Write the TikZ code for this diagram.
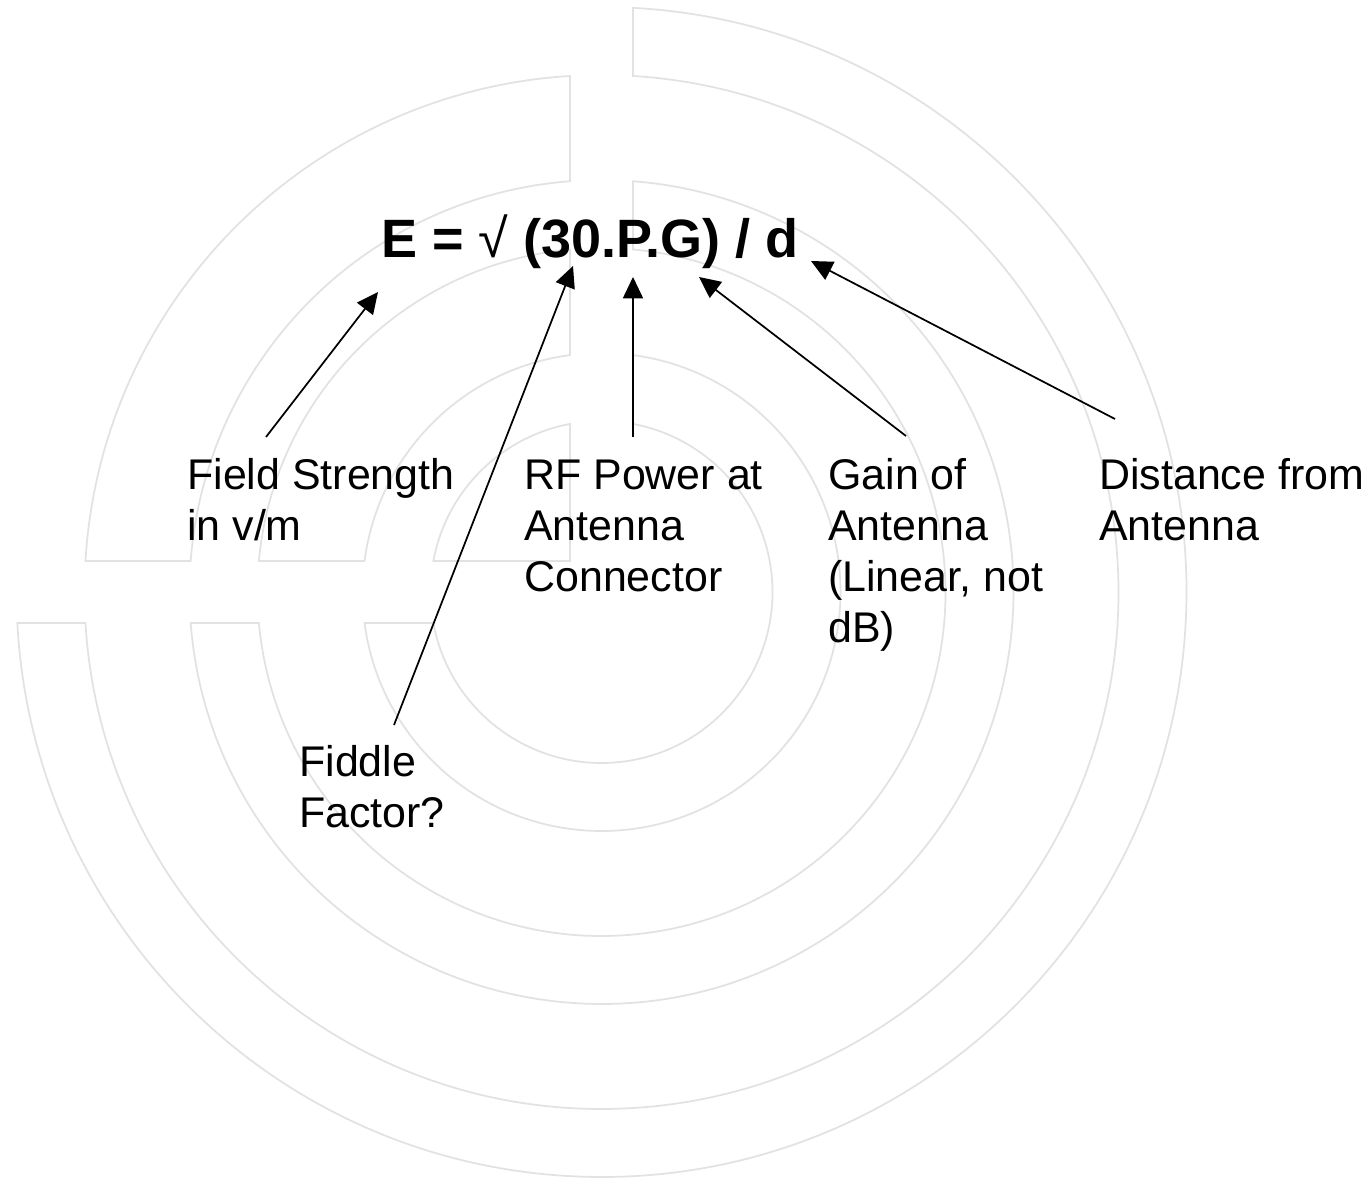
\documentclass[tikz,border=0pt]{standalone}
\usepackage{fontspec}
\setmainfont{Liberation Sans}
\usetikzlibrary{arrows.meta}
\definecolor{ringgrey}{RGB}{226,226,226}
\begin{document}
\begin{tikzpicture}[x=0.75pt,y=0.75pt,
  ring/.style={draw=ringgrey, line width=1.3pt, line join=miter},
  note/.style={anchor=base west, inner sep=0pt, font=\fontsize{32.2pt}{38.2pt}\selectfont},
  formula/.style={anchor=base west, inner sep=0pt, font=\bfseries\fontsize{40.5pt}{48pt}\selectfont},
  pointer/.style={draw=black, line width=1.3pt, -{Triangle[length=16pt,width=15pt]}}]
\useasboundingbox (0,0) rectangle (1372,1179);
\fill[white] (0,0) rectangle (1372,1179);

% concentric bands: three-quarter rings and top-left quarter rings
\begin{scope}[shift={(601.5,587)}]
  \foreach \Ro/\Ri in {585/517, 412/344, 239/171} {
    \draw[ring] ({90-asin(31.5/\Ro)}:\Ro)
      arc[start angle={90-asin(31.5/\Ro)}, end angle={-180+asin(31/\Ro)}, radius=\Ro]
      -- ({-180+asin(31/\Ri)}:\Ri)
      arc[start angle={-180+asin(31/\Ri)}, end angle={90-asin(31.5/\Ri)}, radius=\Ri]
      -- cycle;
  }
  \foreach \Ro/\Ri in {517/412, 344/239} {
    \draw[ring] ({90+asin(31.5/\Ro)}:\Ro)
      arc[start angle={90+asin(31.5/\Ro)}, end angle={180-asin(31/\Ro)}, radius=\Ro]
      -- ({180-asin(31/\Ri)}:\Ri)
      arc[start angle={180-asin(31/\Ri)}, end angle={90+asin(31.5/\Ri)}, radius=\Ri]
      -- cycle;
  }
  \draw[ring] ({90+asin(31.5/171)}:171)
    arc[start angle={90+asin(31.5/171)}, end angle={180-asin(31/171)}, radius=171]
    -- (-31.5,31) -- cycle;
\end{scope}

% formula and labels
\node[formula] (eq) at (381,921) {E = {\mdseries √} (30.P.G) / d};
\node[note] (field) at (187,689) {\begin{tabular}[t]{@{}l@{}}Field Strength\\in v/m\end{tabular}};
\node[note] (power) at (524,689) {\begin{tabular}[t]{@{}l@{}}RF Power at\\Antenna\\Connector\end{tabular}};
\node[note] (gain) at (828,689) {\begin{tabular}[t]{@{}l@{}}Gain of\\Antenna\\(Linear, not\\dB)\end{tabular}};
\node[note] (dist) at (1099,689) {\begin{tabular}[t]{@{}l@{}}Distance from\\Antenna\end{tabular}};
\node[note] (fiddle) at (299,402) {\begin{tabular}[t]{@{}l@{}}Fiddle\\Factor?\end{tabular}};

% pointer ends
\coordinate (fieldtail) at (266,742);
\coordinate (fieldtip) at (378,887);
\coordinate (fiddletail) at (394,454);
\coordinate (fiddletip) at (573,913);
\coordinate (powertail) at (633,742);
\coordinate (powertip) at (633,902);
\coordinate (gaintail) at (906,743);
\coordinate (gaintip) at (699,902);
\coordinate (disttail) at (1115,760);
\coordinate (disttip) at (811,918);

\draw[pointer] (fieldtail) -- (fieldtip);
\draw[pointer] (fiddletail) -- (fiddletip);
\draw[pointer] (powertail) -- (powertip);
\draw[pointer] (gaintail) -- (gaintip);
\draw[pointer] (disttail) -- (disttip);
\end{tikzpicture}
\end{document}
